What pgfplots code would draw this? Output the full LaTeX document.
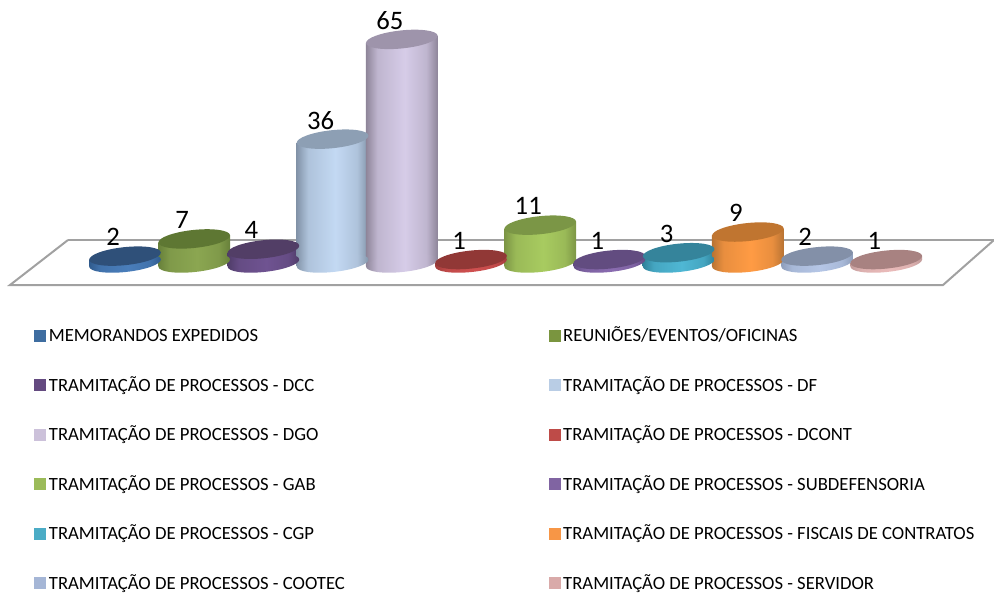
\documentclass[border=0pt]{standalone}
\usepackage{pgfplots}
\pgfplotsset{compat=1.18}
\usepackage{fontspec}
\setmainfont{Carlito}
\usetikzlibrary{shapes.geometric}
\newcommand\mkcyl[5]{% index, top, mid, dark, legend
 \definecolor{c#1t}{HTML}{#2}\definecolor{c#1m}{HTML}{#3}\definecolor{c#1d}{HTML}{#4}\definecolor{l#1}{HTML}{#5}%
 \pgfdeclarehorizontalshading{cyl#1}{100bp}{color(0bp)=(c#1d); color(25bp)=(c#1d); color(33bp)=(c#1m!68!c#1d); color(52bp)=(c#1m); color(67bp)=(c#1m!68!c#1d); color(75bp)=(c#1d); color(100bp)=(c#1d)}}
\mkcyl{0}{2F5079}{4A7EBB}{2F5A8C}{3E6DA0}
\mkcyl{1}{5E7733}{8BA651}{67803A}{7A953F}
\mkcyl{2}{523E66}{6F5391}{4F3C68}{644A80}
\mkcyl{3}{8D9FB4}{C3D9F3}{8394A9}{B9CDE5}
\mkcyl{4}{9E94AB}{D6CCE8}{8E8599}{CCC1DA}
\mkcyl{5}{913836}{D05050}{A03C3A}{BE4B48}
\mkcyl{6}{7B9646}{A8CB60}{7C9545}{9BBB59}
\mkcyl{7}{624C80}{8A6CB0}{614A82}{8064A2}
\mkcyl{8}{35849B}{4FB7D4}{2F8199}{4BACC6}
\mkcyl{9}{C07530}{FF9B44}{B87333}{F79646}
\mkcyl{10}{8390A8}{B5C6E6}{8D9DBA}{A5B6D6}
\mkcyl{11}{A88281}{EABBBA}{C09A99}{D9AAA9}
\pgfplotsset{
 body/.style={forget plot,mark=none,draw=none,shade,shading=cyl#1},
 baseE/.style={forget plot,mark=none,draw=none,nodes near coords={\relax},
   every node near coord/.style={ellipse,inner sep=0pt,outer sep=0pt,minimum width=54pt,minimum height=13.5pt,rotate=6,anchor=center,shade,shading=cyl#1}},
 topE/.style={forget plot,mark=none,draw=none,nodes near coords={\relax},
   every node near coord/.style={ellipse,inner sep=0pt,outer sep=0pt,minimum width=54pt,minimum height=13.5pt,rotate=6,anchor=center,fill=c#1t}},
 legend image code/.code={\fill[draw=none,#1] (0pt,-4.5pt) rectangle (9pt,4.5pt);},
}
\begin{document}
\begin{tikzpicture}
\begin{scope}[x=0.75pt,y=-0.75pt]
\path[use as bounding box] (0,0) rectangle (994,592);
\draw[color=black!37,line width=1.5pt,line join=miter] (68,240) -- (994,240);
\draw[color=black!37,line width=1.5pt,line join=miter] (68,240) -- (10,285) -- (943,285) -- (994,240);
\end{scope}
\begin{axis}[
  at={(0,0)},anchor=north west,scale only axis,width=745.5pt,height=444pt,
  hide axis,clip=false,
  xmin=-1.8065,xmax=12.557,ymin=-95.64,ymax=76.45,
  legend columns=2,
  legend cell align=left,
  legend style={at={(axis description cs:0.0342,0.4522)},anchor=north west,draw=none,fill=none,inner sep=0pt,
     font=\fontsize{14}{16}\selectfont,
     nodes={text height=11pt,text depth=2pt},
     /tikz/every even column/.append style={column sep=150.75pt},
     /tikz/every odd column/.append style={column sep=0pt},
     row sep=20.1pt},
]
% 0
\addplot[baseE=0] coordinates {(0,0)};
\addplot[body=0] coordinates {(-0.519,-1) (0.519,1) (0.519,3) (-0.519,1)} --cycle;
\addplot[topE=0] coordinates {(0,2)};
% 1
\addplot[baseE=1] coordinates {(1,0)};
\addplot[body=1] coordinates {(0.481,-1) (1.519,1) (1.519,8) (0.481,6)} --cycle;
\addplot[topE=1] coordinates {(1,7)};
% 2
\addplot[baseE=2] coordinates {(2,0)};
\addplot[body=2] coordinates {(1.481,-1) (2.519,1) (2.519,5) (1.481,3)} --cycle;
\addplot[topE=2] coordinates {(2,4)};
% 3
\addplot[baseE=3] coordinates {(3,0)};
\addplot[body=3] coordinates {(2.481,-1) (3.519,1) (3.519,37) (2.481,35)} --cycle;
\addplot[topE=3] coordinates {(3,36)};
% 4
\addplot[baseE=4] coordinates {(4,0)};
\addplot[body=4] coordinates {(3.481,-1) (4.519,1) (4.519,66) (3.481,64)} --cycle;
\addplot[topE=4] coordinates {(4,65)};
% 5
\addplot[baseE=5] coordinates {(5,0)};
\addplot[body=5] coordinates {(4.481,-1) (5.519,1) (5.519,2) (4.481,0)} --cycle;
\addplot[topE=5] coordinates {(5,1)};
% 6
\addplot[baseE=6] coordinates {(6,0)};
\addplot[body=6] coordinates {(5.481,-1) (6.519,1) (6.519,12) (5.481,10)} --cycle;
\addplot[topE=6] coordinates {(6,11)};
% 7
\addplot[baseE=7] coordinates {(7,0)};
\addplot[body=7] coordinates {(6.481,-1) (7.519,1) (7.519,2) (6.481,0)} --cycle;
\addplot[topE=7] coordinates {(7,1)};
% 8
\addplot[baseE=8] coordinates {(8,0)};
\addplot[body=8] coordinates {(7.481,-1) (8.519,1) (8.519,4) (7.481,2)} --cycle;
\addplot[topE=8] coordinates {(8,3)};
% 9
\addplot[baseE=9] coordinates {(9,0)};
\addplot[body=9] coordinates {(8.481,-1) (9.519,1) (9.519,10) (8.481,8)} --cycle;
\addplot[topE=9] coordinates {(9,9)};
% 10
\addplot[baseE=10] coordinates {(10,0)};
\addplot[body=10] coordinates {(9.481,-1) (10.519,1) (10.519,3) (9.481,1)} --cycle;
\addplot[topE=10] coordinates {(10,2)};
% 11
\addplot[baseE=11] coordinates {(11,0)};
\addplot[body=11] coordinates {(10.481,-1) (11.519,1) (11.519,2) (10.481,0)} --cycle;
\addplot[topE=11] coordinates {(11,1)};
% value labels
\addplot[forget plot,mark=none,draw=none,point meta=explicit symbolic,nodes near coords={\pgfplotspointmeta},
  every node near coord/.style={anchor=center,xshift=-9pt,yshift=14.25pt,inner sep=0pt,font=\fontsize{20}{22}\selectfont}]
 coordinates {(0,2)[2] (1,7)[7] (2,4)[4] (3,36)[36] (4,65)[65] (5,1)[1] (6,11)[11] (7,1)[1] (8,3)[3] (9,9)[9] (10,2)[2] (11,1)[1]};
% legend
\addlegendimage{fill=l0}\addlegendentry{MEMORANDOS EXPEDIDOS}
\addlegendimage{fill=l1}\addlegendentry{REUNIÕES/EVENTOS/OFICINAS}
\addlegendimage{fill=l2}\addlegendentry{TRAMITAÇÃO DE PROCESSOS - DCC}
\addlegendimage{fill=l3}\addlegendentry{TRAMITAÇÃO DE PROCESSOS - DF}
\addlegendimage{fill=l4}\addlegendentry{TRAMITAÇÃO DE PROCESSOS - DGO}
\addlegendimage{fill=l5}\addlegendentry{TRAMITAÇÃO DE PROCESSOS - DCONT}
\addlegendimage{fill=l6}\addlegendentry{TRAMITAÇÃO DE PROCESSOS - GAB}
\addlegendimage{fill=l7}\addlegendentry{TRAMITAÇÃO DE PROCESSOS - SUBDEFENSORIA}
\addlegendimage{fill=l8}\addlegendentry{TRAMITAÇÃO DE PROCESSOS - CGP}
\addlegendimage{fill=l9}\addlegendentry{TRAMITAÇÃO DE PROCESSOS - FISCAIS DE CONTRATOS}
\addlegendimage{fill=l10}\addlegendentry{TRAMITAÇÃO DE PROCESSOS - COOTEC}
\addlegendimage{fill=l11}\addlegendentry{TRAMITAÇÃO DE PROCESSOS - SERVIDOR}
\end{axis}
\end{tikzpicture}
\end{document}
